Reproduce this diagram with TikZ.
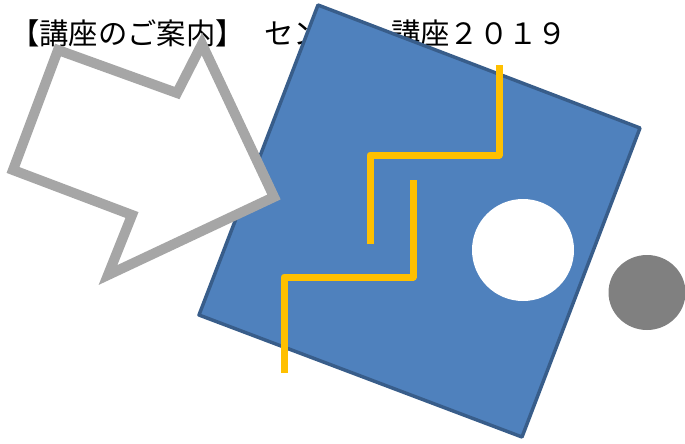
\documentclass[tikz,border=0pt]{standalone}
\usepackage{fontspec}
\newfontfamily\jpfont{Noto Sans CJK JP}
\definecolor{boxblue}{HTML}{4F81BD}
\definecolor{boxedge}{HTML}{385D8A}
\definecolor{arrowgray}{HTML}{A6A6A6}
\definecolor{stepyellow}{HTML}{FFC000}
\definecolor{dotgray}{HTML}{808080}

\begin{document}
\begin{tikzpicture}[x=0.75pt,y=-0.75pt,
	title/.style={anchor=base west,inner sep=0pt,font=\jpfont\fontsize{22}{26}\selectfont},
	stepline/.style={stepyellow,line width=5.25pt,line join=round}]
	
	\useasboundingbox (0,0) rectangle (685,443);
	
	% the heading
	\node[title] (head1) at (10,44) {【講座のご案内】};
	\node[title] (head2) at (264,44) {セン};
	\node[title] (head3) at (391,44) {講座２０１９};
	
	% the tilted board
	\draw[boxedge,fill=boxblue,line width=2.6pt,line join=round] (318,5)--(640,128)--(522,437)--(199,315)--cycle;
	
	% the arrow
	\draw[arrowgray,fill=white,line width=7.5pt] (13,170)--(58,50)--(177,93)--(202,44)--(274,197)--(108,275)--(132,215)--cycle;
	
	% the steps
	\draw[stepline] (499,65)--(499,155)--(370,155)--(370,244);
	\draw[stepline] (413,180)--(413,277)--(284,277)--(284,373);
	
	% the holes
	\fill[white] (523,250) circle (51);
	\fill[dotgray] (647,292.5) ellipse (38.5 and 37.5);
\end{tikzpicture}
\end{document}
